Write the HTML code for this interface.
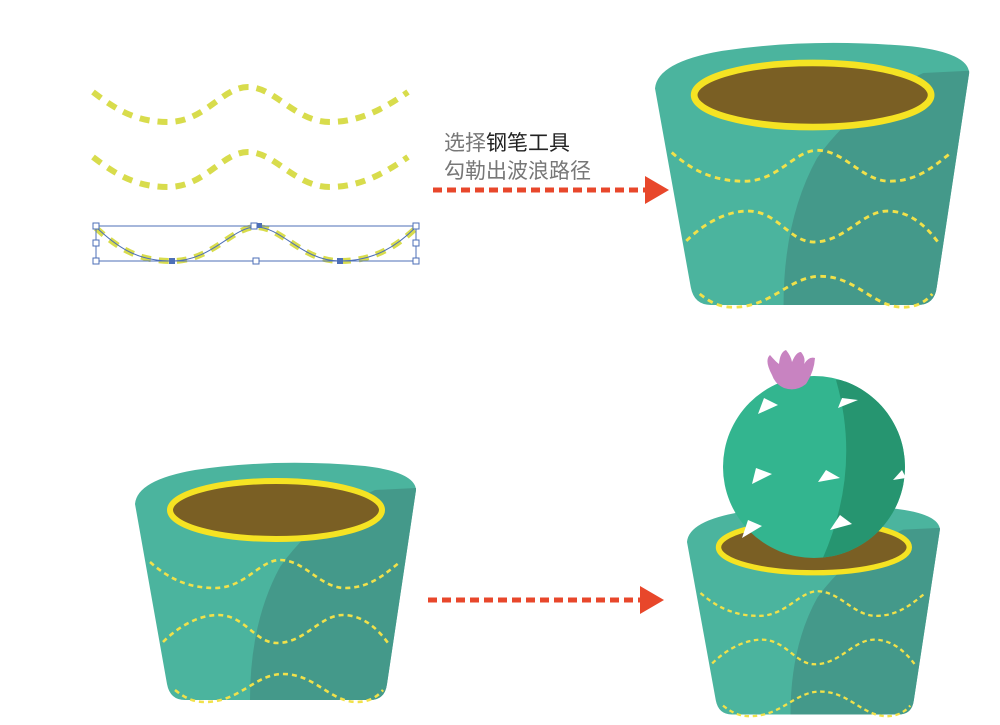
<!DOCTYPE html>
<html><head><meta charset="utf-8"><style>
html,body{margin:0;padding:0;background:#fff;width:1000px;height:725px;overflow:hidden}
</style></head><body>
<svg width="1000" height="725" viewBox="0 0 1000 725" xmlns="http://www.w3.org/2000/svg">
<defs>
<g id="pot">
  <path d="M0,42 Q2,18 60,8 Q140,-4 230,4 Q280,10 281,28 L252,222 Q250,238 235,238 L50,238 Q35,238 32,222 Z" fill="#4bb49e"/>
  <path d="M281,26 L240,28 Q180,55 145,105 Q115,160 115,238 L235,238 Q250,238 252,222 L281,28Z" fill="#44998a"/>
  <g fill="none" stroke="#f1e14a" stroke-width="2.6" stroke-dasharray="5 4">
    <path d="M15,100 C35,118 55,126 80,126 C110,126 125,98 145,98 C170,98 185,126 210,126 C235,126 250,112 265,100"/>
    <path d="M28,180 C45,163 65,153 83,153 C110,153 120,181 142,181 C170,181 185,153 208,153 C230,153 245,170 253,181"/>
    <path d="M40,228 C50,236 58,240 70,240 C105,240 120,212 148,212 C180,212 195,240 222,240 C235,240 243,234 248,228"/>
  </g>
  <ellipse cx="141" cy="48" rx="106" ry="29" fill="#7a5f24" stroke="#f5e323" stroke-width="6"/>
</g>
</defs>

<!-- top-left waves -->
<g fill="none" stroke="#d8dc4c" stroke-width="6" stroke-dasharray="10 8">
  <path d="M93,92 C120,113 140,122 168,122 C205,122 222,87 248,87 C275,87 295,122 330,122 C360,122 385,108 408,92"/>
  <path d="M93,157 C120,178 140,187 168,187 C205,187 222,152 248,152 C275,152 295,187 330,187 C360,187 385,173 408,157"/>
  <path d="M96,228 C120,250 140,261 172,261 C212,261 232,227 256,227 C282,227 302,261 340,261 C375,261 398,245 416,228"/>
</g>
<rect x="96" y="226" width="320" height="35" fill="none" stroke="#4d6fb7" stroke-width="1"/>
<path d="M96,227 C120,250 140,261 172,261 C212,261 232,227 256,227 C282,227 302,261 340,261 C375,261 398,245 416,227" fill="none" stroke="#4d6fb7" stroke-width="1"/>
<g fill="#fff" stroke="#4d6fb7" stroke-width="1">
  <rect x="93" y="223" width="6" height="6"/><rect x="251" y="223" width="6" height="6"/><rect x="413" y="223" width="6" height="6"/>
  <rect x="93" y="240" width="6" height="6"/><rect x="413" y="240" width="6" height="6"/>
  <rect x="93" y="258" width="6" height="6"/><rect x="253" y="258" width="6" height="6"/><rect x="413" y="258" width="6" height="6"/>
</g>
<g fill="#4d6fb7"><rect x="169" y="258" width="6" height="6"/><rect x="337" y="258" width="6" height="6"/><rect x="257" y="223" width="5" height="5"/></g>

<!-- text -->
<text x="444" y="150" font-family="'Liberation Sans','Noto Sans CJK SC',sans-serif" font-size="21" fill="#777">选择<tspan fill="#222">钢笔工具</tspan></text>
<text x="444" y="178" font-family="'Liberation Sans','Noto Sans CJK SC',sans-serif" font-size="21" fill="#777">勾勒出波浪路径</text>

<!-- arrows -->
<line x1="433" y1="190" x2="645" y2="190" stroke="#e8472b" stroke-width="5" stroke-dasharray="9 5"/>
<polygon points="645,176 669,190 645,204" fill="#e8472b"/>
<line x1="428" y1="600" x2="640" y2="600" stroke="#e8472b" stroke-width="5" stroke-dasharray="9 5"/>
<polygon points="640,586 664,600 640,614" fill="#e8472b"/>

<!-- pots -->
<use href="#pot" transform="translate(655,42) scale(1.118,1.105)"/>
<use href="#pot" transform="translate(135,462)"/>
<use href="#pot" transform="translate(687,505) scale(0.9,0.88)"/>

<!-- cactus -->
<clipPath id="cc"><circle cx="814" cy="467" r="91"/></clipPath>
<circle cx="814" cy="467" r="91" fill="#33b58f"/>
<path d="M836,380 Q862,470 822,560 L920,560 L920,380Z" fill="#269570" clip-path="url(#cc)"/>
<g fill="#fff">
  <polygon points="758,414 778,405 764,398"/>
  <polygon points="838,408 858,400 842,398"/>
  <polygon points="752,484 772,474 756,468"/>
  <polygon points="818,482 840,478 826,470"/>
  <polygon points="742,538 762,526 748,520"/>
  <polygon points="830,530 852,524 840,515"/>
  <polygon points="893,480 906,478 902,470"/>
</g>
<path d="M772,375 Q764,360 770,355 Q776,362 779,364 Q780,352 786,350 Q791,356 792,362 Q796,352 801,352 Q806,358 804,364 Q809,356 815,358 Q814,372 806,384 Q796,392 784,388 Q775,384 772,375Z" fill="#c883c1"/>
</svg>
</body></html>
